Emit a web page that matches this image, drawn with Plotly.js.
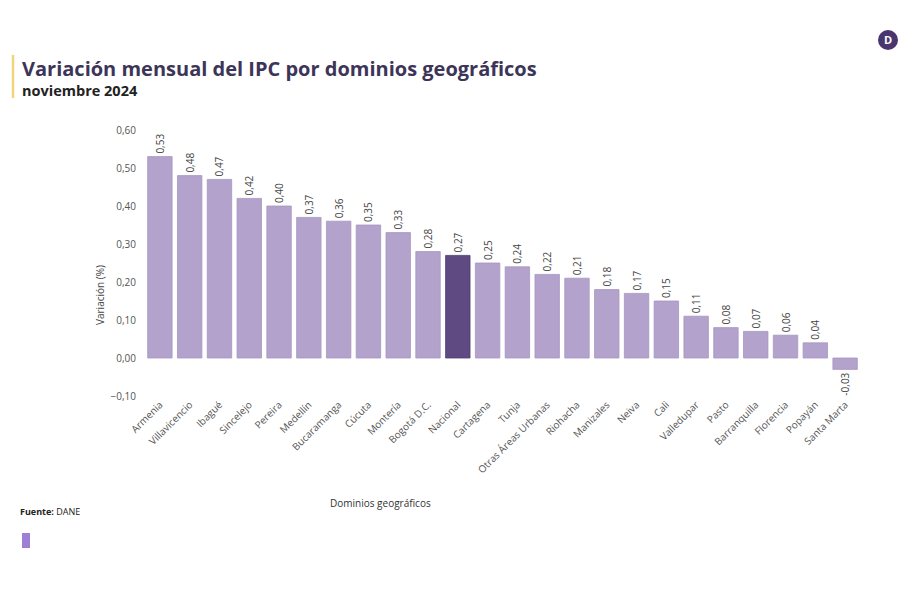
<!DOCTYPE html>
<html>
<head>
<meta charset="utf-8">
<script src="https://cdn.plot.ly/plotly-3.0.1.min.js"></script>
<style>html,body{margin:0;padding:0;background:#fff;}#chart{width:900px;height:600px;}</style>
</head>
<body>
<div id="chart"></div>
<script>
const categories = ["Armenia","Villavicencio","Ibagué","Sincelejo","Pereira","Medellín","Bucaramanga","Cúcuta","Montería","Bogotá D.C.","Nacional","Cartagena","Tunja","Otras Áreas Urbanas","Riohacha","Manizales","Neiva","Cali","Valledupar","Pasto","Barranquilla","Florencia","Popayán","Santa Marta"];
const values = [0.53,0.48,0.47,0.42,0.40,0.37,0.36,0.35,0.33,0.28,0.27,0.25,0.24,0.22,0.21,0.18,0.17,0.15,0.11,0.08,0.07,0.06,0.04,-0.03];
const highlight = "Nacional";
const yTicks = [-0.10,0.00,0.10,0.20,0.30,0.40,0.50,0.60];

const light = "#b3a2cc", dark = "#5f4a82";
const colors = categories.map(c => c === highlight ? dark : light);
const lineColors = categories.map(c => c === highlight ? "#4e3b70" : "#a795c2");

const font = "'Open Sans', 'Noto Sans', sans-serif";

const trace = {
  type: "bar",
  x: categories,
  y: values,
  marker: {color: colors, line: {color: lineColors, width: 0.8}},
  text: values,
  texttemplate: "%{y:.2f}",
  textposition: "outside",
  textangle: -90,
  cliponaxis: false,
  textfont: {family: font, size: 10, color: "#444"},
  hoverinfo: "x+y"
};

const layout = {
  width: 900, height: 600,
  paper_bgcolor: "#fff", plot_bgcolor: "#fff",
  separators: ",.",
  margin: {l: 145, r: 40, t: 130, b: 204},
  bargap: 0.18,
  showlegend: false,
  font: {family: font, color: "#555"},
  xaxis: {
    type: "category",
    tickangle: -45,
    tickfont: {family: font, size: 10, color: "#555"},
    showgrid: false, zeroline: false, showline: false, ticks: ""
  },
  yaxis: {
    range: [-0.1, 0.6],
    tickvals: yTicks,
    tickformat: ".2f",
    tickfont: {family: font, size: 10, color: "#555"},
    showgrid: false, zeroline: false, showline: false, ticks: "",
    ticklabelstandoff: 8
  },
  shapes: [
    {type: "line", xref: "paper", yref: "paper", x0: (13-145)/715, x1: (13-145)/715, y0: 1 + (130-55)/266, y1: 1 + (130-98)/266, line: {color: "#f0d67a", width: 2.5}},
    {type: "rect", xref: "paper", yref: "paper", x0: (22-145)/715, x1: (30-145)/715, y0: -(533-396)/266, y1: -(548-396)/266, fillcolor: "#9b80d6", line: {width: 0}},
    {type: "circle", xref: "paper", yref: "paper", x0: (878-145)/715, x1: (898-145)/715, y0: 1 + (130-30)/266, y1: 1 + (130-50)/266, fillcolor: "#4a356f", line: {width: 0}}
  ],
  annotations: [
    {text: "<b>Variación mensual del IPC por dominios geográficos</b>", xref: "paper", yref: "paper", x: (20-145)/715, y: 1 + (130-68)/266, xanchor: "left", yanchor: "middle", showarrow: false, font: {family: font, size: 20, color: "#3d3558"}},
    {text: "<b>noviembre 2024</b>", xref: "paper", yref: "paper", x: (20-145)/715, y: 1 + (130-90)/266, xanchor: "left", yanchor: "middle", showarrow: false, font: {family: font, size: 14.5, color: "#222"}},
    {text: "Variación (%)", xref: "paper", yref: "paper", x: (100-145)/715, y: 1 - (295-130)/266, xanchor: "center", yanchor: "middle", textangle: -90, showarrow: false, font: {family: font, size: 10, color: "#444"}},
    {text: "Dominios geográficos", xref: "paper", yref: "paper", x: (380-145)/715, y: -(503-396)/266, xanchor: "center", yanchor: "middle", showarrow: false, font: {family: font, size: 10, color: "#333"}},
    {text: "<b>Fuente:</b> DANE", xref: "paper", yref: "paper", x: (18-145)/715, y: -(511-396)/266, xanchor: "left", yanchor: "middle", showarrow: false, font: {family: font, size: 9, color: "#222"}},
    {text: "<b>D</b>", xref: "paper", yref: "paper", x: (888-145)/715, y: 1 + (130-40)/266, xanchor: "center", yanchor: "middle", showarrow: false, font: {family: font, size: 11, color: "#fff"}}
  ]
};

Plotly.newPlot("chart", [trace], layout, {displayModeBar: false, staticPlot: true});
</script>
</body>
</html>
